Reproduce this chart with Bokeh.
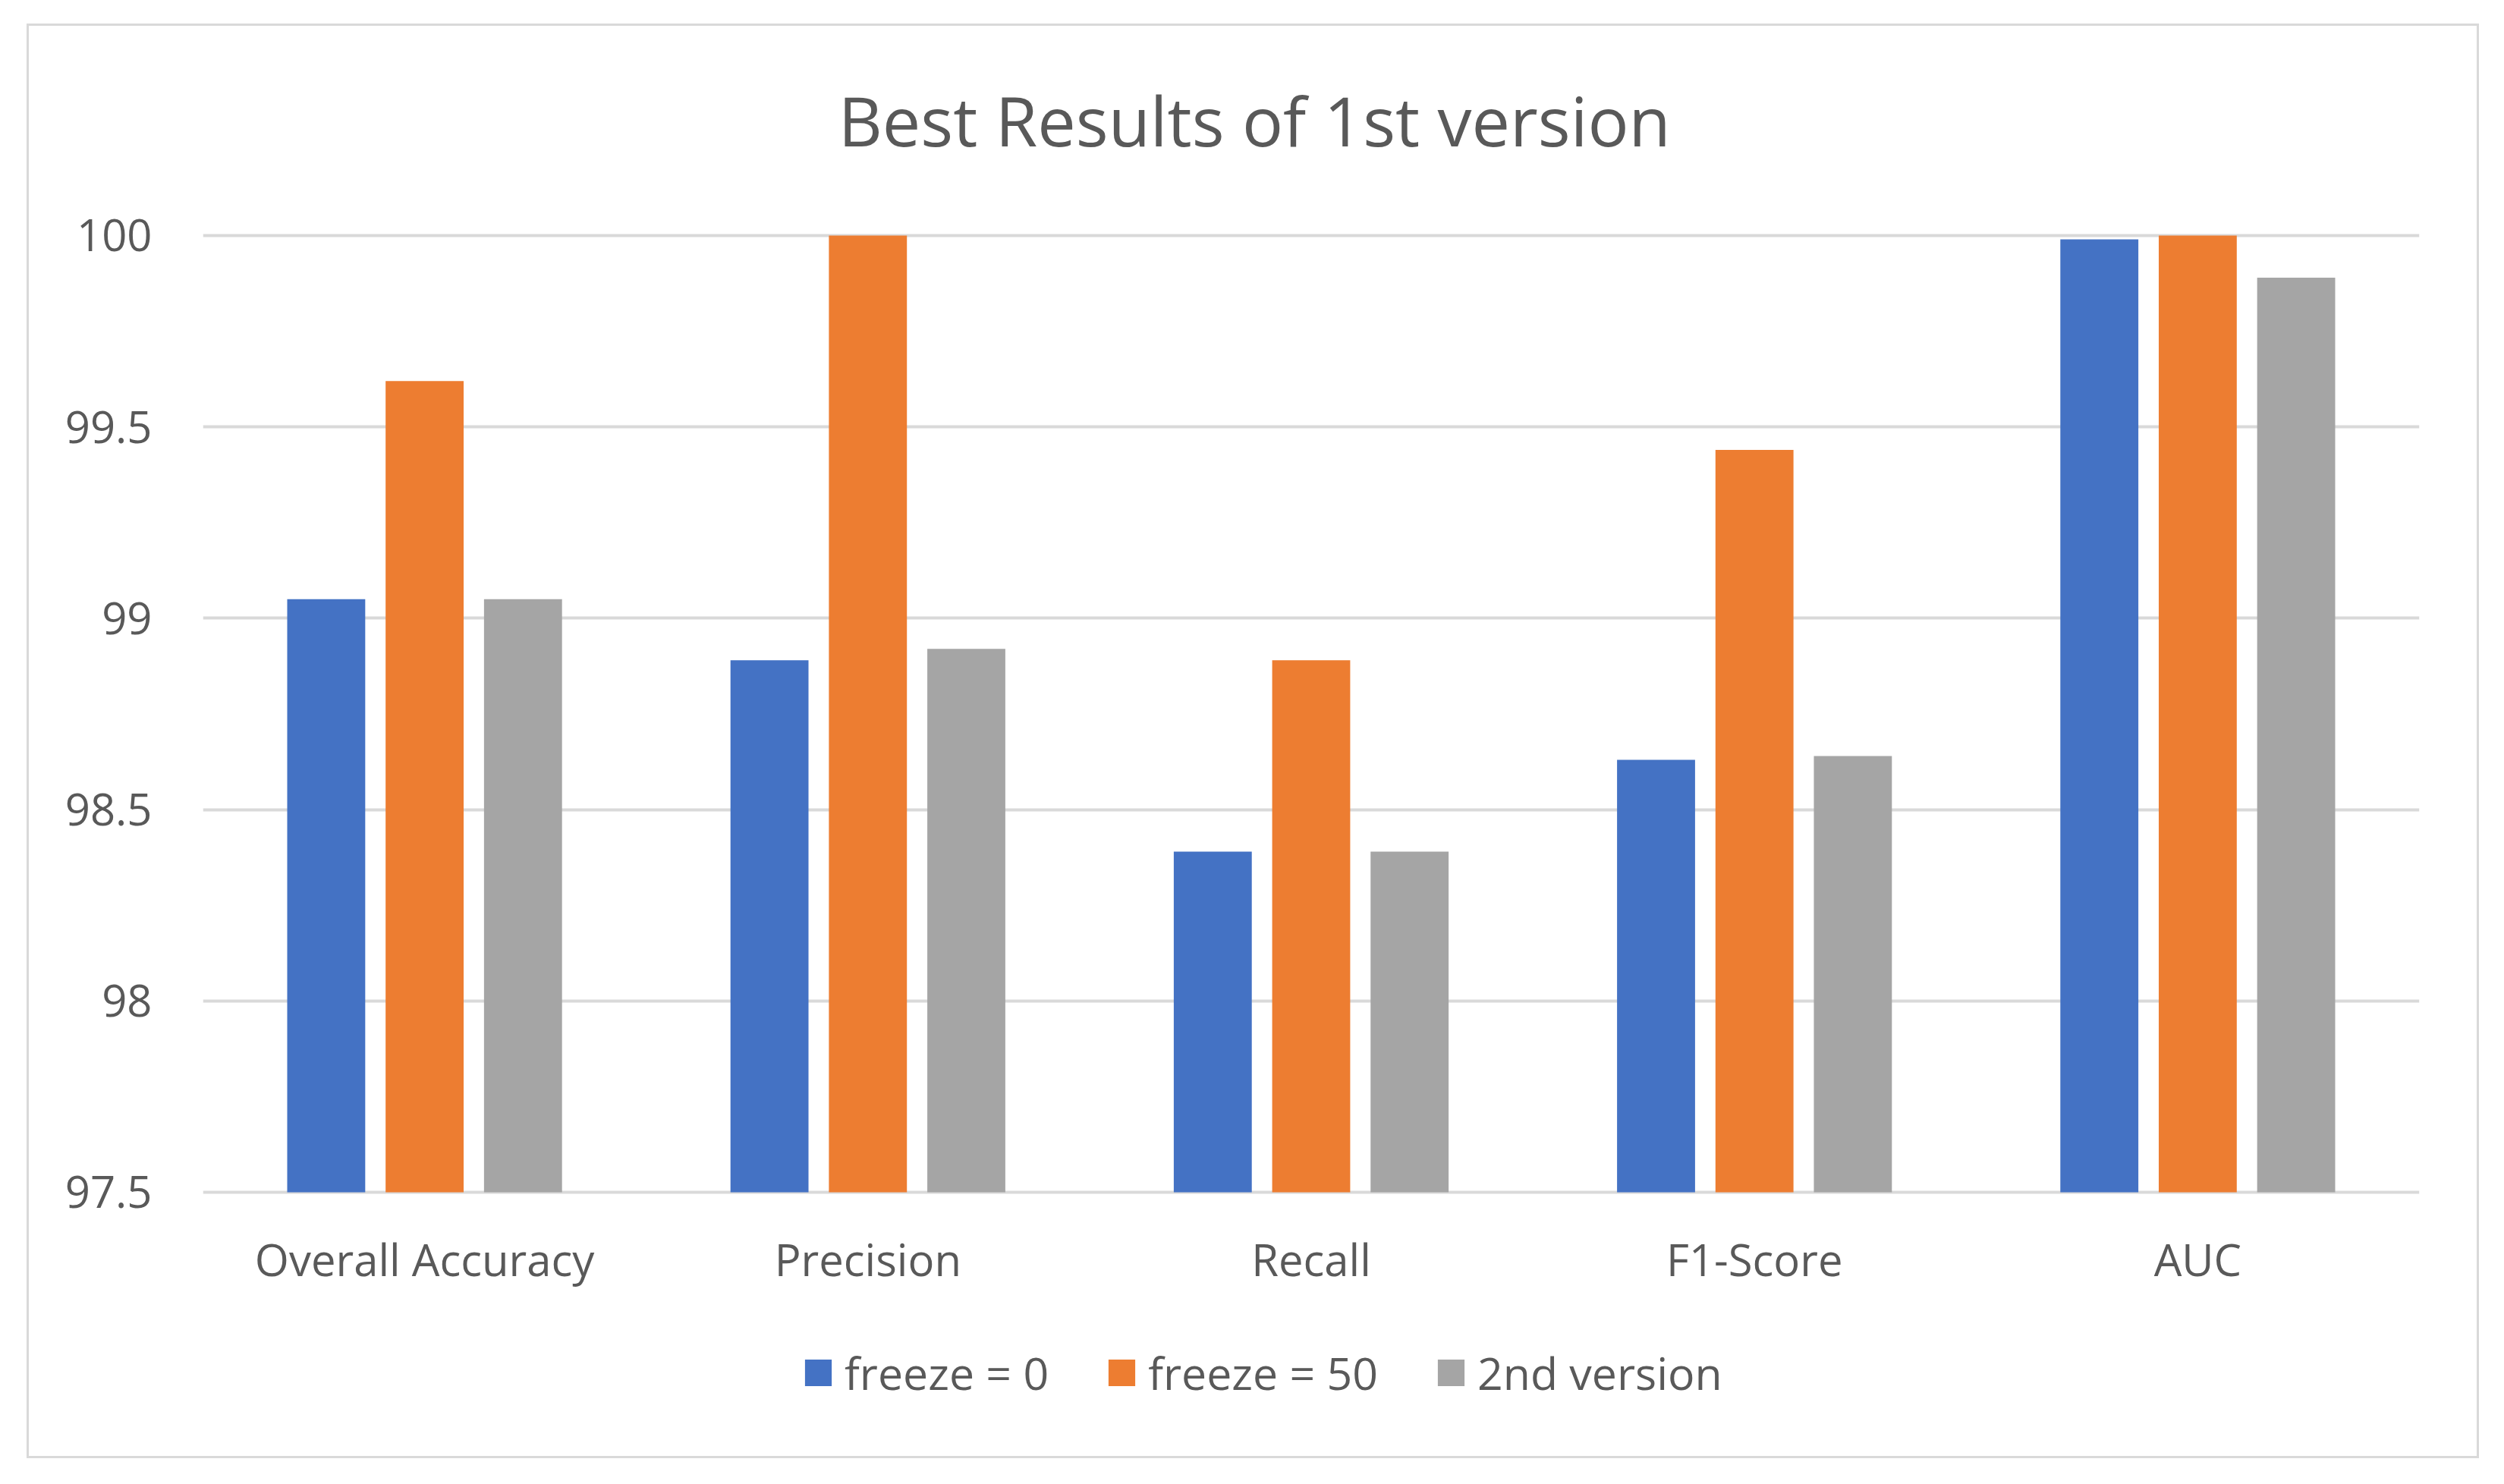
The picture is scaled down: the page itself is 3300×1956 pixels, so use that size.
from bokeh.plotting import figure
from bokeh.models import ColumnDataSource, FactorRange, Range1d, FixedTicker, Legend, LegendItem, Label
from bokeh.transform import dodge
from bokeh.core.properties import value
from bokeh.embed import file_html
from bokeh.resources import INLINE

# ---- data ----
categories = ["Overall Accuracy", "Precision", "Recall", "F1-Score", "AUC"]
freeze_0 = [99.05, 98.89, 98.39, 98.63, 99.99]
freeze_50 = [99.62, 100.0, 98.89, 99.44, 100.0]
second_version = [99.05, 98.92, 98.39, 98.64, 99.89]
series_names = ["freeze = 0", "freeze = 50", "2nd version"]
series_colors = ["#4472C4", "#ED7D31", "#A5A5A5"]
y_ticks = [97.5, 98, 98.5, 99, 99.5, 100]
y_tick_labels = ["97.5", "98", "98.5", "99", "99.5", "100"]
title_text = "Best Results of 1st version"

Y_BASE = 97.5
LABEL_Y = Y_BASE - 0.1745      # category label row below the bars
TITLE_X = 2.372                # title centre (category units)
TITLE_Y = 100.303              # title baseline

src = ColumnDataSource(dict(cat=categories, f0=freeze_0, f50=freeze_50, v2=second_version))

FONT = "Open Sans"
TXT = "#595959"

p = figure(x_range=FactorRange(*categories), y_range=Range1d(96.8378, 100.5075),
           width=3232, height=1891, output_backend="svg", toolbar_location=None,
           min_border_left=229, min_border_right=82, min_border_top=20, min_border_bottom=20)
p.margin = (31, 0, 0, 35)
p.styles = {"border": "3px solid #D9D9D9"}
p.background_fill_color = "white"
p.border_fill_color = "white"
p.outline_line_color = None

offsets = [-0.222, 0.0, 0.222]
fields = ["f0", "f50", "v2"]
renderers = []
for fld, off, col in zip(fields, offsets, series_colors):
    r = p.vbar(x=dodge("cat", off, range=p.x_range), top=fld, bottom=Y_BASE, width=0.176,
               source=src, fill_color=col, line_color=None)
    renderers.append(r)

# category labels
p.text(x="cat", y=LABEL_Y, text="cat", source=src, text_align="center", text_baseline="middle",
       text_font=value(FONT), text_font_size="58px", text_color=TXT)

# title
p.add_layout(Label(x=TITLE_X, y=TITLE_Y, text=title_text, text_align="center",
                   text_baseline="alphabetic", text_font=FONT, text_font_size="90px",
                   text_color=TXT))

p.yaxis.ticker = FixedTicker(ticks=y_ticks)
p.yaxis.major_label_overrides = {t: l for t, l in zip(y_ticks, y_tick_labels)}
p.yaxis.axis_line_color = None
p.yaxis.major_tick_line_color = None
p.yaxis.minor_tick_line_color = None
p.yaxis.major_label_standoff = 61
p.yaxis.major_label_text_font = FONT
p.yaxis.major_label_text_font_size = "58px"
p.yaxis.major_label_text_color = TXT

p.xaxis.visible = False

p.xgrid.grid_line_color = None
p.ygrid.grid_line_color = "#D9D9D9"
p.ygrid.grid_line_width = 4

legend = Legend(items=[LegendItem(label=n, renderers=[r]) for n, r in zip(series_names, renderers)],
                orientation="horizontal", location=(789, 56),
                glyph_width=44, glyph_height=44, label_standoff=13, spacing=74,
                padding=0, margin=0, border_line_color=None, background_fill_alpha=0,
                label_text_font=FONT, label_text_font_size="59px", label_text_color=TXT)
p.add_layout(legend)

open("out.html", "w").write(file_html(p, INLINE))
